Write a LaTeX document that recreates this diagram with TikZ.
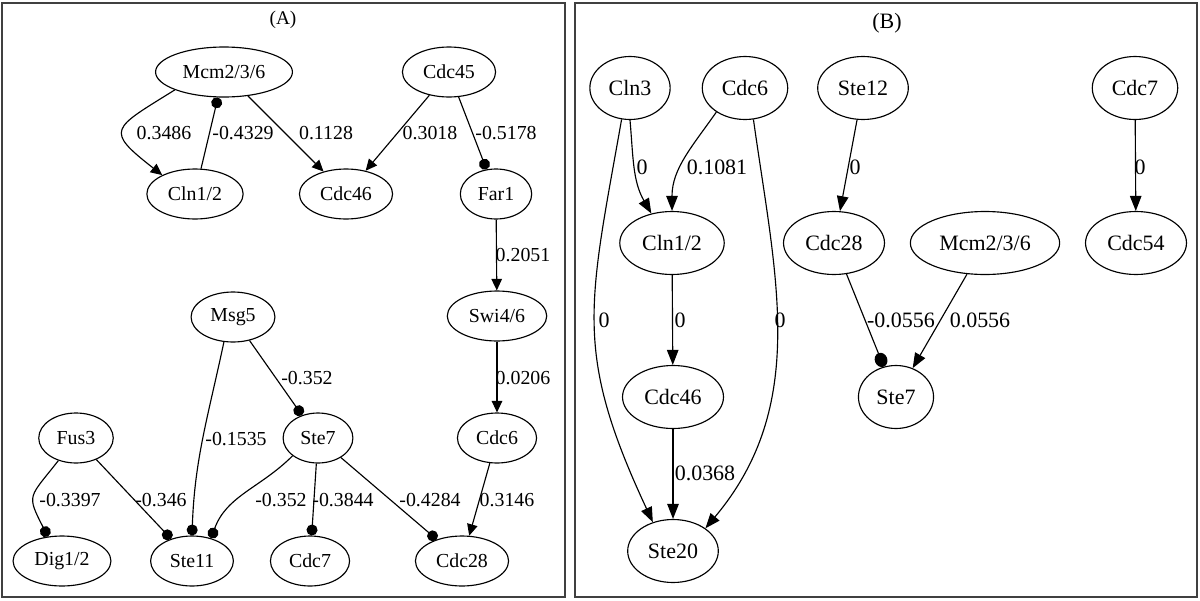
\documentclass[tikz,border=0pt]{standalone}
\usepackage{fontspec}
\setmainfont{Liberation Serif}
\usetikzlibrary{shapes.geometric,arrows.meta}

\begin{document}
\begin{tikzpicture}[
    x=0.02cm, y=0.02cm,
    line width=0.65pt,
    gene/.style={
        ellipse,
        draw,
        inner xsep=4pt,
        minimum height=1cm,
        font=\fontsize{11.3}{13}\selectfont
    },
    geneB/.style={gene, minimum height=1.26cm, font=\fontsize{12.5}{15}\selectfont},
    wt/.style={inner sep=1pt, font=\fontsize{11.3}{13}\selectfont},
    wtB/.style={inner sep=1pt, font=\fontsize{12.5}{15}\selectfont},
    act/.style={-{Triangle[length=2.3mm,width=2.1mm]}},
    inh/.style={-{Circle[length=2.2mm]}},
    actB/.style={-{Triangle[length=3mm,width=2.3mm]}},
    inhB/.style={-{Circle[length=2.9mm,width=2.5mm]}},
    panel/.style={draw=black!75, line width=1.1pt}
]
\useasboundingbox (0,0) rectangle (1200,600);

% Panel frames
\draw[panel] (2,3) rectangle (565,597);
\draw[panel] (575,3) rectangle (1197,597);
\node[font=\fontsize{11}{13}\selectfont] (titleA) at (283,580) {(A)};
\node[font=\fontsize{12.5}{15}\selectfont] (titleB) at (887,577) {(B)};

% (A) genes
\node[gene] (mcmA) at (224,528) {Mcm2/3/6};
\node[gene] (cdc45A) at (449,528) {Cdc45};
\node[gene] (clnA) at (195,406) {Cln1/2};
\node[gene] (cdc46A) at (346,406) {Cdc46};
\node[gene] (far1A) at (496,406) {Far1};
\node[gene] (msg5A) at (233,283) {Msg5};
\node[gene] (swiA) at (497,284) {Swi4/6};
\node[gene] (fus3A) at (76,162) {Fus3};
\node[gene] (ste7A) at (318,162) {Ste7};
\node[gene] (cdc6A) at (497,162) {Cdc6};
\node[gene] (digA) at (62,39) {Dig1/2};
\node[gene] (ste11A) at (192,39) {Ste11};
\node[gene] (cdc7A) at (310,39) {Cdc7};
\node[gene] (cdc28A) at (462,39) {Cdc28};

% (A) interactions
\draw[act] (mcmA.200) to[out=212,in=142,looseness=2.2] (clnA.150);
\draw[inh] (clnA) -- (mcmA);
\draw[act] (mcmA) -- (cdc46A);
\draw[act] (cdc45A) -- (cdc46A);
\draw[inh] (cdc45A) -- (far1A);
\draw[act] (far1A) -- (swiA);
\draw[inh] (msg5A) -- (ste7A);
\draw[inh] (msg5A.250) to[out=258,in=88] (ste11A.north);
\draw[inh] (fus3A.232) to[out=232,in=117,looseness=1.6] (digA.120);
\draw[inh] (fus3A) -- (ste11A);
\draw[inh] (ste7A.215) to[out=225,in=70] (ste11A.50);
\draw[inh] (ste7A) -- (cdc7A);
\draw[inh] (ste7A) -- (cdc28A);
\draw[act] (swiA) -- (cdc6A);
\draw[act] (cdc6A) -- (cdc28A);

% (A) weights
\node[wt] (wA1) at (164,467) {0.3486};
\node[wt] (wA2) at (243,467) {-0.4329};
\node[wt] (wA3) at (326,467) {0.1128};
\node[wt] (wA4) at (430,467) {0.3018};
\node[wt] (wA5) at (506,467) {-0.5178};
\node[wt] (wA6) at (523,345) {0.2051};
\node[wt] (wA7) at (307,222) {-0.352};
\node[wt] (wA8) at (236,161) {-0.1535};
\node[wt] (wA9) at (523,222) {0.0206};
\node[wt] (wA10) at (70,100) {-0.3397};
\node[wt] (wA11) at (161,100) {-0.346};
\node[wt] (wA12) at (281,100) {-0.352};
\node[wt] (wA13) at (343,100) {-0.3844};
\node[wt] (wA14) at (430,100) {-0.4284};
\node[wt] (wA15) at (507,100) {0.3146};

% (B) genes
\node[geneB] (cln3B) at (630,512) {Cln3};
\node[geneB] (cdc6B) at (745,512) {Cdc6};
\node[geneB] (ste12B) at (863,512) {Ste12};
\node[geneB] (cdc7B) at (1135,512) {Cdc7};
\node[geneB] (clnB) at (672,357) {Cln1/2};
\node[geneB] (cdc28B) at (834,357) {Cdc28};
\node[geneB] (mcmB) at (985,357) {Mcm2/3/6};
\node[geneB] (cdc54B) at (1136,357) {Cdc54};
\node[geneB] (cdc46B) at (673,203) {Cdc46};
\node[geneB] (ste7B) at (896,203) {Ste7};
\node[geneB] (ste20B) at (673,49) {Ste20};

% (B) interactions
\draw[actB] (cln3B.south) to[out=275,in=120] (clnB.125);
\draw[actB] (cdc6B.220) to[out=235,in=90] (clnB.north);
\draw[actB] (cln3B.255) to[out=260,in=115,looseness=1.2] (ste20B.125);
\draw[actB] (cdc6B.285) to[out=278,in=50] (ste20B.35);
\draw[actB] (clnB) -- (cdc46B);
\draw[actB] (cdc46B) -- (ste20B);
\draw[actB] (ste12B) -- (cdc28B);
\draw[actB] (cdc7B) -- (cdc54B);
\draw[inhB] (cdc28B) -- (ste7B);
\draw[actB] (mcmB) -- (ste7B);

% (B) weights
\node[wtB] (wB1) at (642,433) {0};
\node[wtB] (wB2) at (717,433) {0.1081};
\node[wtB] (wB3) at (855,433) {0};
\node[wtB] (wB4) at (1140,433) {0};
\node[wtB] (wB5) at (604,280) {0};
\node[wtB] (wB6) at (680,280) {0};
\node[wtB] (wB7) at (780,280) {0};
\node[wtB] (wB8) at (901,280) {-0.0556};
\node[wtB] (wB9) at (980,280) {0.0556};
\node[wtB] (wB10) at (705,127) {0.0368};

\end{tikzpicture}
\end{document}
